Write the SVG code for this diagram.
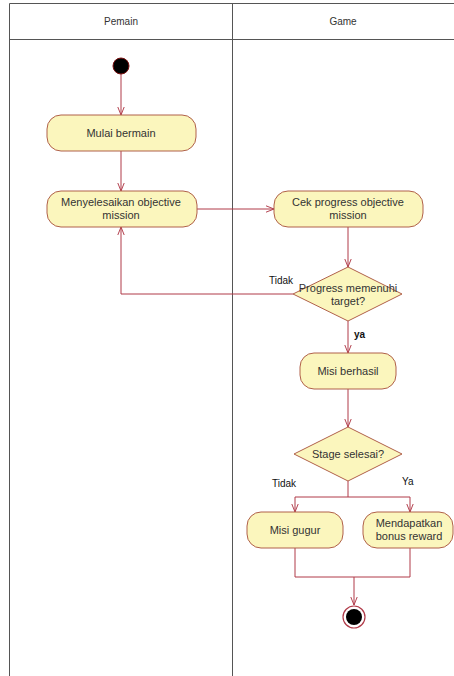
<svg xmlns="http://www.w3.org/2000/svg" width="454" height="676" viewBox="0 0 454 676">
<style>
  .lane { fill: none; stroke: #555; stroke-width: 1; }
  .act { fill: #fbf6bd; stroke: #b0604a; stroke-width: 1; }
  .dec { fill: #fbf6bd; stroke: #b0604a; stroke-width: 1; }
  .flow { fill: none; stroke: #b03a48; stroke-width: 1; }
  .t { font-family: "Liberation Sans", Arial, sans-serif; font-size: 11px; fill: #333; text-anchor: middle; }
  .h { font-family: "Liberation Sans", Arial, sans-serif; font-size: 10px; fill: #333; text-anchor: middle; }
  .g { font-family: "Liberation Sans", Arial, sans-serif; font-size: 10px; fill: #111; }
</style>
<defs>
  <marker id="arr" viewBox="0 0 10 10" refX="10" refY="5" markerWidth="8" markerHeight="8" orient="auto" markerUnits="userSpaceOnUse">
    <path d="M0,1 L10,5 L0,9" fill="none" stroke="#b03a48" stroke-width="1.2"/>
  </marker>
</defs>
<rect width="454" height="676" fill="#fff"/>

<!-- swimlanes -->
<g id="lanes">
  <path class="lane" d="M9.5,676 V3.5 H454 M9.5,39.5 H454 M232.5,3.5 V676"/>
  <text class="h" x="121" y="25">Pemain</text>
  <text class="h" x="343" y="25">Game</text>
</g>

<!-- connectors -->
<g id="connectors">
  <path class="flow" d="M121,74 V115" marker-end="url(#arr)"/>
  <path class="flow" d="M121,151 V191" marker-end="url(#arr)"/>
  <path class="flow" d="M197,209 H274" marker-end="url(#arr)"/>
  <path class="flow" d="M348,227 V267" marker-end="url(#arr)"/>
  <path class="flow" d="M293,294 H121 V227" marker-end="url(#arr)"/>
  <path class="flow" d="M348,321 V353" marker-end="url(#arr)"/>
  <path class="flow" d="M348,389 V427" marker-end="url(#arr)"/>
  <path class="flow" d="M348,481 V497 H295 V512" marker-end="url(#arr)"/>
  <path class="flow" d="M348,497 H410 V512" marker-end="url(#arr)"/>
  <path class="flow" d="M295,548 V577 H410 V548"/>
  <path class="flow" d="M354,577 V605" marker-end="url(#arr)"/>
  <text class="g" x="269" y="284">Tidak</text>
  <text class="g" x="354" y="338" font-weight="bold" fill="#333">ya</text>
  <text class="g" x="272" y="487">Tidak</text>
  <text class="g" x="402" y="485">Ya</text>
</g>

<g id="start"><circle cx="121" cy="66" r="8" fill="#000" stroke="#7a1010"/></g>

<g id="mulai">
  <rect class="act" x="47" y="115" width="149" height="36" rx="14"/>
  <text class="t" x="121" y="137">Mulai bermain</text>
</g>

<g id="menyelesaikan">
  <rect class="act" x="47" y="191" width="150" height="36" rx="14"/>
  <text class="t" x="121" y="206">Menyelesaikan objective</text>
  <text class="t" x="121" y="219">mission</text>
</g>

<g id="cek">
  <rect class="act" x="274" y="191" width="149" height="36" rx="14"/>
  <text class="t" x="348" y="206">Cek progress objective</text>
  <text class="t" x="348" y="219">mission</text>
</g>

<g id="progress">
  <polygon class="dec" points="348,267 402,294 348,321 293,294"/>
  <text class="t" x="348" y="292">Progress memenuhi</text>
  <text class="t" x="348" y="305">target?</text>
</g>

<g id="berhasil">
  <rect class="act" x="300" y="353" width="96" height="36" rx="14"/>
  <text class="t" x="348" y="375">Misi berhasil</text>
</g>

<g id="stage">
  <polygon class="dec" points="348,427 402,454 348,481 294,454"/>
  <text class="t" x="348" y="458">Stage selesai?</text>
</g>

<g id="gugur">
  <rect class="act" x="247" y="512" width="96" height="36" rx="14"/>
  <text class="t" x="295" y="534">Misi gugur</text>
</g>

<g id="bonus">
  <rect class="act" x="363" y="512" width="90" height="36" rx="14"/>
  <text class="t" x="409" y="527">Mendapatkan</text>
  <text class="t" x="409" y="540">bonus reward</text>
</g>

<g id="end">
  <circle cx="354" cy="617" r="11" fill="#fff" stroke="#b03a48" stroke-width="1.2"/>
  <circle cx="354" cy="617" r="8" fill="#000"/>
</g>
</svg>
